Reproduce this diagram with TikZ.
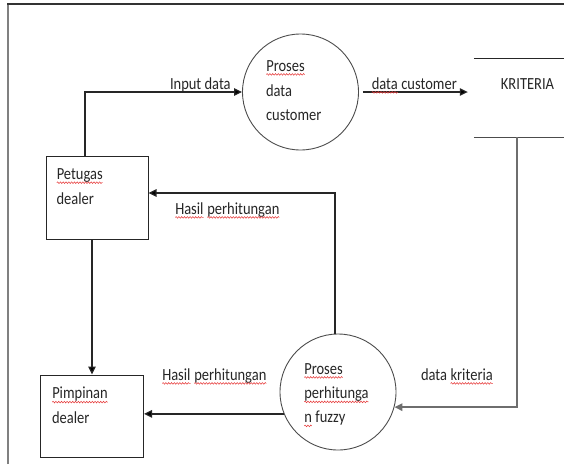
\documentclass[tikz,border=0pt]{standalone}
\usepackage{fontspec}
\usepackage{graphicx}
\setmainfont{Carlito}
\usetikzlibrary{arrows.meta,decorations.pathmorphing,calc}
\tikzset{
  wavy/.style={draw={rgb,255:red,230;green,60;blue,60}, line width=0.5pt, decorate,
    decoration={snake, amplitude=0.7pt, segment length=2.8pt}},
  frame/.style={line width=1.6pt, draw={rgb,255:red,128;green,128;blue,128}},
  box/.style={draw=black!85, line width=1pt, rectangle, inner sep=0pt},
  proc/.style={draw=black!70, line width=0.9pt, circle, inner sep=0pt, minimum size=116pt},
  arr/.style={line width=1.2pt, draw=black!85, -{Triangle[length=8pt,width=7.5pt]}},
  txt/.style={inner sep=0pt, outer sep=0pt, anchor=base west, text=black!85,
    font=\fontsize{14.5}{24}\selectfont},
}
\newcommand\sq[1]{\tikz[baseline=(w.base)]{\node[shape=rectangle,draw=none,fill=none,inner sep=0pt,outer sep=0pt,minimum width=0pt,minimum height=0pt,anchor=base](w) at (0,0){#1};\path[wavy] ([yshift=-2.9pt]w.base west) -- ([yshift=-2.9pt]w.base east);}}
\newcommand\vs[1]{\scalebox{1}[1.17]{#1}}
\begin{document}
\begin{tikzpicture}[x=1pt,y=-1pt]
\useasboundingbox (0,0) rectangle (564,464);
% outer frame
\draw[frame] (8,464) -- (8,4);
\draw[line width=1.4pt, black!80] (7.2,4) -- (564,4);
% nodes
\node[box, minimum width=102pt, minimum height=83pt] (pet) at (97,197.5) {};
\node[box, minimum width=103pt, minimum height=82pt] (pim) at (92,416) {};
\node[proc] (c1) at (300.5,92) {};
\node[proc] (c2) at (338,392) {};
\node[inner sep=0pt, minimum width=90pt, minimum height=78pt] (kr) at (519,98) {};
\draw[line width=1pt, black!85] (kr.north west) -- (kr.north east);
\draw[line width=1pt, black!70] (kr.south west) -- (kr.south east);
% texts
\node[txt] (t1) at (56.5,179.3) {\vs{\sq{Petugas}}};
\node[txt] (t2) at (56.5,204.5) {\vs{dealer}};
\node[txt] (t3) at (52,398.7) {\vs{\sq{Pimpinan}}};
\node[txt] (t4) at (52,423) {\vs{dealer}};
\node[txt] (t5) at (266,71) {\vs{\sq{Proses}}};
\node[txt] (t6) at (266,96) {\vs{data}};
\node[txt] (t7) at (266,120.5) {\vs{customer}};
\node[txt] (t8) at (304,374) {\vs{\sq{Proses}}};
\node[txt] (t9) at (304,398.5) {\vs{\sq{perhitunga}}};
\node[txt] (t10) at (304,422.5) {\vs{\sq{n} fuzzy}};
\node[txt, anchor=base] (t11) at (527.5,89) {\vs{KRITERIA}};
% connectors
\draw[arr] ([xshift=-12pt]pet.north) |- (c1.west);
\node[txt] (l1) at (170,89) {\vs{Input data}};
\draw[arr, shorten <=4pt, shorten >=6pt] (c1.east) -- (c1.east -| kr.west);
\node[txt] (l2) at (371.5,89) {\vs{\sq{data} customer}};
\draw[arr, draw={rgb,255:red,110;green,110;blue,110}, line width=1.6pt] ([xshift=43pt]kr.south west) |- (c2.-15);
\node[txt] (l3) at (421,380) {\vs{data \sq{kriteria}}};
\draw[arr] (c2.93) |- ([yshift=4.5pt]pet.east);
\node[txt] (l4) at (175,214) {\vs{\sq{Hasil} \sq{perhitungan}}};
\draw[arr] (pet.south -| pim.north) -- (pim.north);
\draw[arr] (c2.202) -- (c2.202 -| pim.east);
\node[txt] (l5) at (162,380) {\vs{\sq{Hasil} \sq{perhitungan}}};
\end{tikzpicture}
\end{document}
